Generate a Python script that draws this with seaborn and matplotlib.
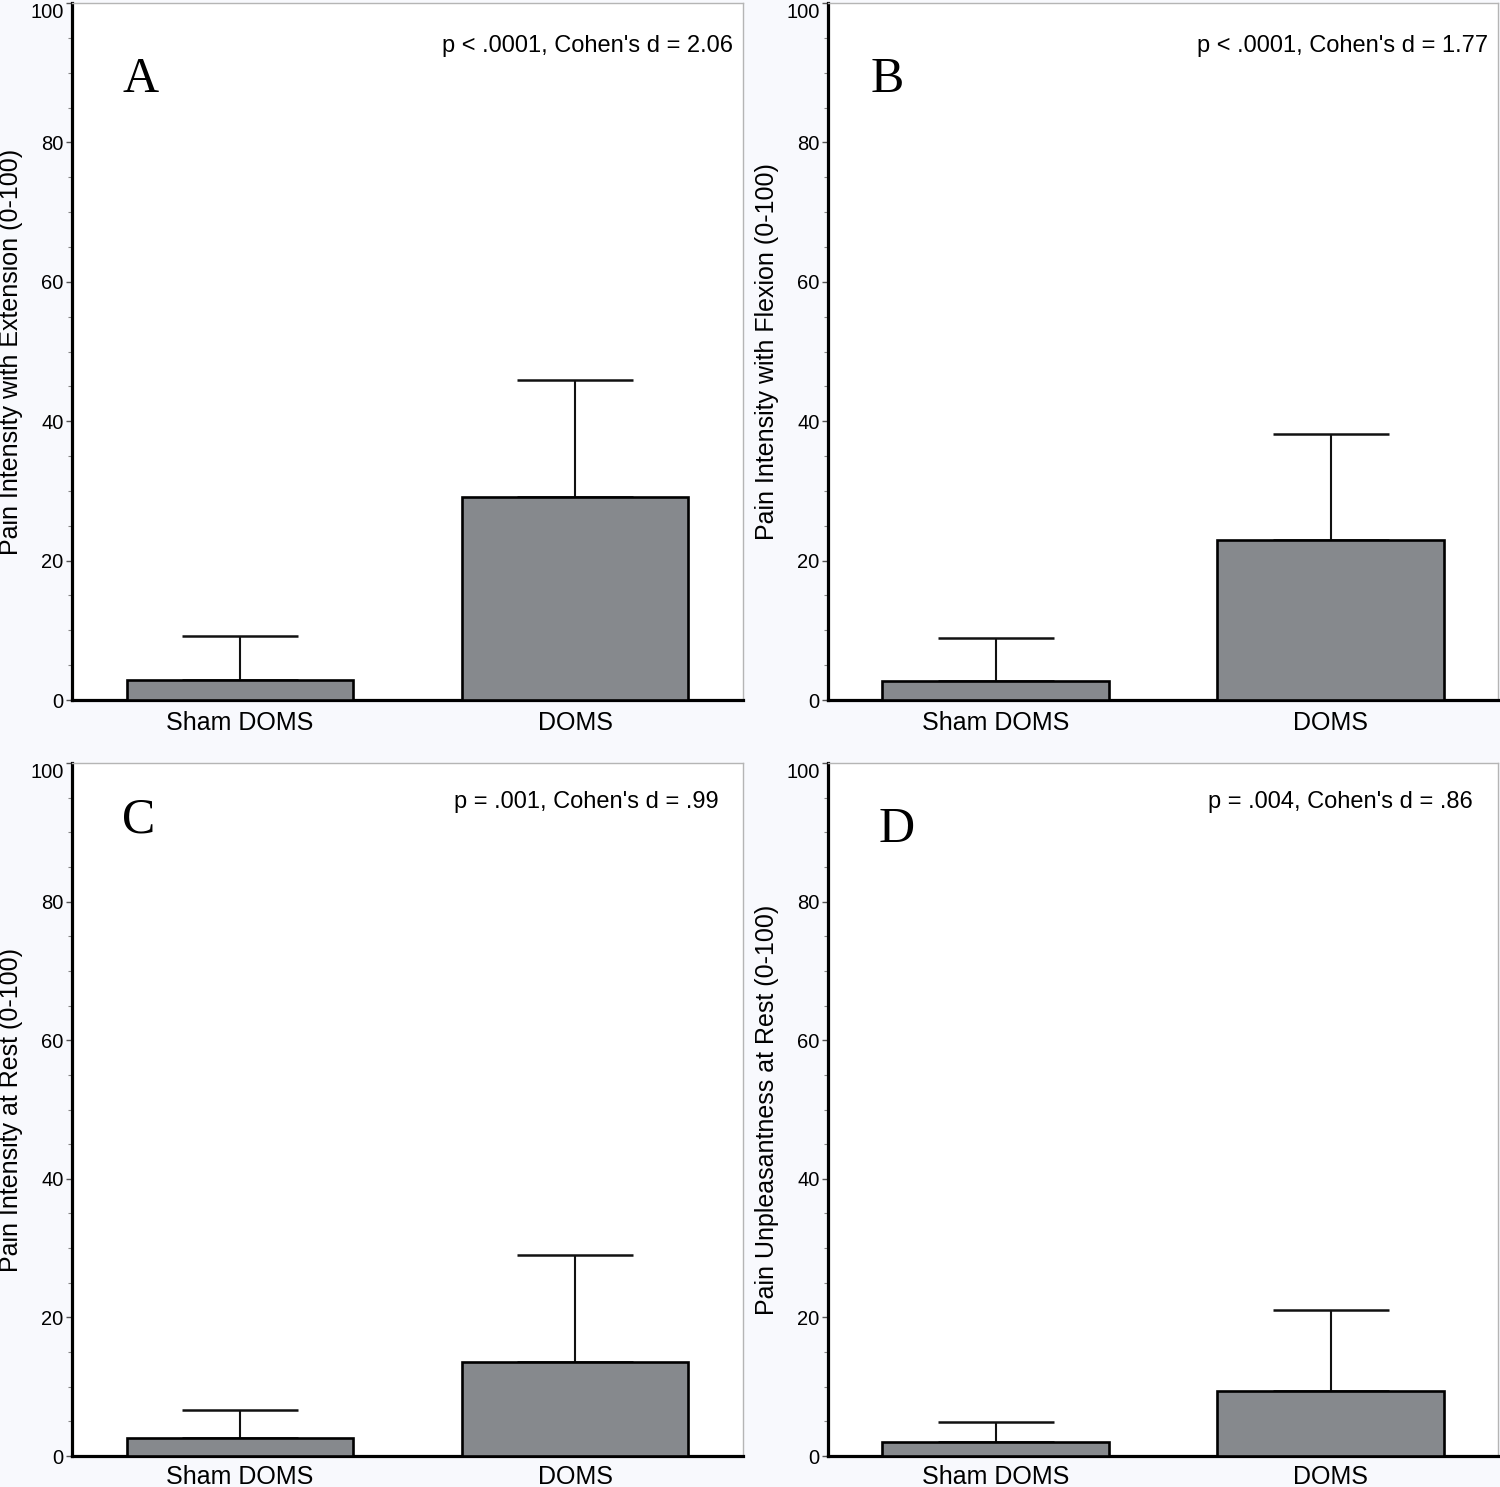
import matplotlib
matplotlib.use("Agg")
import matplotlib.pyplot as plt
import seaborn as sns
import pandas as pd
from matplotlib.ticker import MultipleLocator

# ---- data ----
groups = ["Sham DOMS", "DOMS"]
panel_letters = ["A", "B", "C", "D"]
ylabels = [
    "Pain Intensity with Extension (0-100)",
    "Pain Intensity with Flexion (0-100)",
    "Pain Intensity at Rest (0-100)",
    "Pain Unpleasantness at Rest (0-100)",
]
stats_text = [
    "p < .0001, Cohen's d = 2.06",
    "p < .0001, Cohen's d = 1.77",
    "p = .001, Cohen's d = .99",
    "p = .004, Cohen's d = .86",
]
means_A = [2.9, 29.1]
means_B = [2.7, 22.9]
means_C = [2.6, 13.6]
means_D = [2.0, 9.4]
upper_A = [9.2, 45.9]
upper_B = [8.9, 38.1]
upper_C = [6.6, 29.0]
upper_D = [4.9, 21.1]
yticks = [0, 20, 40, 60, 80, 100]

means = [means_A, means_B, means_C, means_D]
uppers = [upper_A, upper_B, upper_C, upper_D]

sns.set_theme(style="white")
plt.rcParams['font.family'] = ['Liberation Sans', 'DejaVu Sans']

bg = "#f8f9fd"
bar_color = "#86898d"

fig = plt.figure(figsize=(15, 14.87), dpi=100, facecolor=bg)
W, H = 1500, 1487
boxes = [
    (72, 3, 743, 700),
    (828, 3, 1498, 700),
    (72, 763, 743, 1456),
    (828, 763, 1498, 1456),
]
letter_pos = [(0.075, 0.872), (0.063, 0.872), (0.075, 0.9), (0.075, 0.886)]
stat_right = [0.985, 0.985, 0.963, 0.963]
stat_y = [0.929, 0.929, 0.935, 0.935]
xpads = [2, 2, 0.5, 0.5]

for i, (x0, y0, x1, y1) in enumerate(boxes):
    ax = fig.add_axes([x0 / W, 1 - y1 / H, (x1 - x0) / W, (y1 - y0) / H])
    ax.set_facecolor("white")
    df = pd.DataFrame({"group": groups, "value": means[i]})
    sns.barplot(data=df, x="group", y="value", order=groups, color=bar_color,
                saturation=1, width=0.675, errorbar=None, edgecolor="black",
                linewidth=1.9, ax=ax, zorder=3)
    err = [u - m for u, m in zip(uppers[i], means[i])]
    ax.errorbar(range(len(groups)), means[i], yerr=[[0] * len(err), err],
                fmt="none", ecolor="#111111", elinewidth=1.5, capsize=41.5,
                capthick=1.8, zorder=2)
    ax.set_xlim(-0.5, 1.5)
    ax.set_ylim(0, 100)
    ax.set_yticks(yticks)
    ax.yaxis.set_minor_locator(MultipleLocator(5))
    ax.tick_params(axis="y", which="major", left=True, length=4, width=1,
                   color="#555555", labelsize=14.5, pad=2, labelcolor="black")
    ax.tick_params(axis="y", which="minor", left=True, length=3, width=0.8,
                   color="#888888")
    ax.tick_params(axis="x", bottom=False, labelsize=18, pad=xpads[i],
                   labelcolor="black")
    ax.set_xlabel("")
    ax.set_ylabel(ylabels[i], fontsize=18, labelpad=5, color="black")
    ax.yaxis.get_major_ticks()[-1].label1.set_verticalalignment("top")
    for s in ["left", "bottom"]:
        ax.spines[s].set_color("black")
        ax.spines[s].set_linewidth(2.3)
    for s in ["top", "right"]:
        ax.spines[s].set_color("#b5b5b5")
        ax.spines[s].set_linewidth(1.0)
    ax.text(letter_pos[i][0], letter_pos[i][1], panel_letters[i],
            transform=ax.transAxes, fontsize=36,
            family=["Liberation Serif", "DejaVu Serif"], ha="left",
            va="baseline", color="black")
    ax.text(stat_right[i], stat_y[i], stats_text[i], transform=ax.transAxes,
            fontsize=17, ha="right", va="baseline", color="black")

fig.savefig("out.png", dpi=100, facecolor=bg)
